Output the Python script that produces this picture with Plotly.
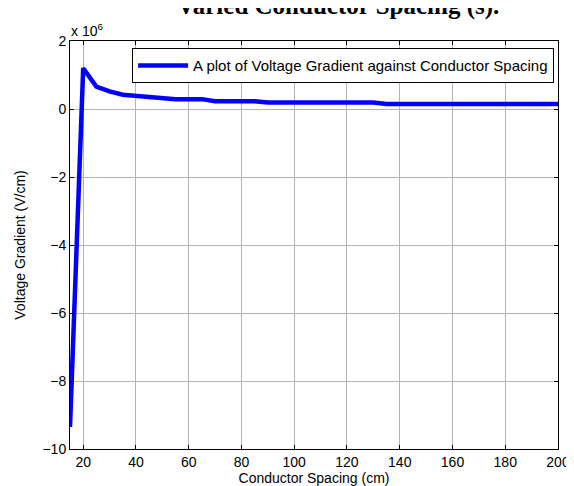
import plotly.graph_objects as go

# Conductor spacing (cm)
spacing_cm = [15, 20, 25, 30, 35, 40, 45, 50, 55, 60, 65, 70, 75, 80, 85,
              90, 95, 100, 105, 110, 115, 120, 125, 130, 135, 140, 145, 150,
              155, 160, 165, 170, 175, 180, 185, 190, 195, 200]
# Voltage gradient (x 10^6 V/cm)
gradient_e6 = [-9.35, 1.20, 0.66, 0.52, 0.42, 0.38, 0.35, 0.32, 0.29, 0.29, 0.29,
               0.23, 0.23, 0.23, 0.23,
               0.19, 0.19, 0.19, 0.19, 0.19, 0.19, 0.19, 0.19, 0.19,
               0.15, 0.15, 0.15, 0.15, 0.15, 0.15, 0.15, 0.15, 0.15, 0.15,
               0.15, 0.15, 0.15, 0.15]

x_ticks = [20, 40, 60, 80, 100, 120, 140, 160, 180, 200]
y_ticks = [-10, -8, -6, -4, -2, 0, 2]

series_name = "A plot of Voltage Gradient against Conductor Spacing"
font_fam = "Liberation Sans, Arial, sans-serif"

fig = go.Figure()
fig.add_trace(go.Scatter(
    x=spacing_cm, y=gradient_e6, mode="lines", name=series_name,
    line=dict(color="#0000FF", width=4.5),
))

axis_common = dict(
    showline=True, linecolor="black", linewidth=1, mirror="ticks",
    ticks="inside", ticklen=4, tickcolor="black",
    showgrid=True, gridcolor="#b4b4b4", gridwidth=1,
    zeroline=False,
    tickfont=dict(family=font_fam, size=14, color="black"),
)

fig.update_xaxes(range=[15, 200], tickvals=x_ticks,
                 title=dict(text="Conductor Spacing (cm)", standoff=2,
                            font=dict(family=font_fam, size=14, color="black")),
                 **axis_common)
fig.update_yaxes(range=[-10, 2], tickvals=y_ticks,
                 title=dict(text="Voltage Gradient (V/cm)", standoff=13,
                            font=dict(family=font_fam, size=14, color="black")),
                 **axis_common)

fig.update_layout(
    width=574, height=486,
    margin=dict(l=59, r=14, t=33, b=43),
    paper_bgcolor="white", plot_bgcolor="white",
    showlegend=True,
    legend=dict(x=0.992, y=0.982, xanchor="right", yanchor="top",
                bgcolor="white", bordercolor="black", borderwidth=1,
                font=dict(family=font_fam, size=15, color="black"),
                itemwidth=50),
    annotations=[
        dict(text="x 10<sup>6</sup>", xref="paper", yref="paper",
             x=-0.002, y=1.0, xanchor="left", yanchor="bottom",
             showarrow=False,
             font=dict(family=font_fam, size=14, color="black")),
        dict(text="<b>Varied Conductor Spacing (s).</b>", xref="paper", yref="paper",
             x=0.55, y=1.046, xanchor="center", yanchor="bottom",
             showarrow=False,
             font=dict(family="Liberation Serif, Times New Roman, serif", size=25, color="black")),
    ],
)

fig.write_html("out.html")
